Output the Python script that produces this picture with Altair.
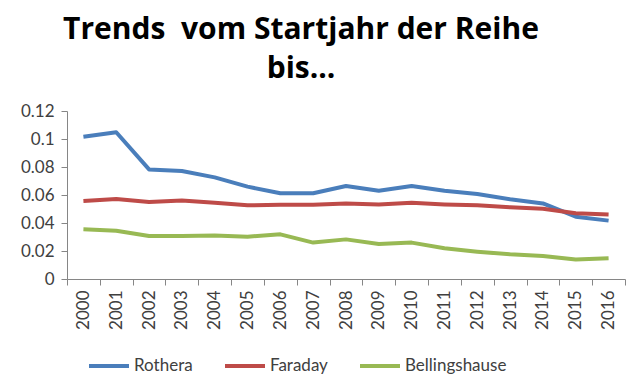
import altair as alt
import pandas as pd

years = [str(y) for y in range(2000, 2017)]
rothera = [0.1016, 0.1048, 0.0783, 0.0771, 0.0726, 0.0660, 0.0612, 0.0612, 0.0664,
           0.0631, 0.0664, 0.0630, 0.0607, 0.0569, 0.0540, 0.0445, 0.0417]
faraday = [0.0557, 0.0571, 0.0550, 0.0560, 0.0545, 0.0526, 0.0530, 0.0530, 0.0540,
           0.0533, 0.0545, 0.0533, 0.0526, 0.0512, 0.0502, 0.0469, 0.0460]
bellings = [0.0355, 0.0345, 0.0307, 0.0307, 0.0310, 0.0302, 0.0319, 0.0260, 0.0283,
            0.0250, 0.0260, 0.0219, 0.0195, 0.0176, 0.0164, 0.0140, 0.0148]
series = ["Rothera", "Faraday", "Bellingshause"]
colors = ["#4a7ebb", "#be4b48", "#98b954"]
y_ticks = [0, 0.02, 0.04, 0.06, 0.08, 0.1, 0.12]

rows = []
for name, vals in zip(series, [rothera, faraday, bellings]):
    for yr, v in zip(years, vals):
        rows.append({"Jahr": yr, "Trend": v, "Station": name})
df = pd.DataFrame(rows)

chart = alt.Chart(df).mark_line(strokeWidth=4, strokeJoin="round").encode(
    x=alt.X("Jahr:O", sort=years, title=None,
            scale=alt.Scale(paddingInner=0, paddingOuter=0),
            axis=alt.Axis(labelAngle=-90, tickBand="extent", tickSize=6,
                          labelPadding=5, domainColor="#868686", tickColor="#868686",
                          labelColor="#404040", labelFont="Lato", labelFontSize=17)),
    y=alt.Y("Trend:Q", title=None,
            scale=alt.Scale(domain=[0, 0.12], nice=False),
            axis=alt.Axis(values=y_ticks, format=".2~f", grid=False, tickSize=6,
                          labelPadding=7, domainColor="#868686", tickColor="#868686",
                          labelColor="#404040", labelFont="Lato", labelFontSize=17)),
    color=alt.Color("Station:N", sort=series,
                    scale=alt.Scale(domain=series, range=colors),
                    legend=alt.Legend(title=None, orient="none", direction="horizontal",
                                      legendX=20, legendY=233,
                                      symbolType="stroke", symbolSize=1600,
                                      symbolStrokeWidth=4, labelOffset=3,
                                      columnPadding=24,
                                      labelFont="Lato", labelFontSize=17,
                                      labelColor="#404040")),
).properties(
    width=558, height=168,
    autosize=alt.AutoSizeParams(type="none"),
    padding={"left": 59, "top": 103, "right": 7, "bottom": 113},
    title=alt.TitleParams(["Trends\u00a0 vom Startjahr der Reihe", "bis..."],
                          font="Open Sans", fontSize=30, fontWeight="bold", color="#000000",
                          anchor="middle", frame="group", dx=-45, offset=18,
                          lineHeight=39),
).configure_view(stroke=None)

chart.save("out.html", embed_options={"renderer": "svg", "actions": False})
